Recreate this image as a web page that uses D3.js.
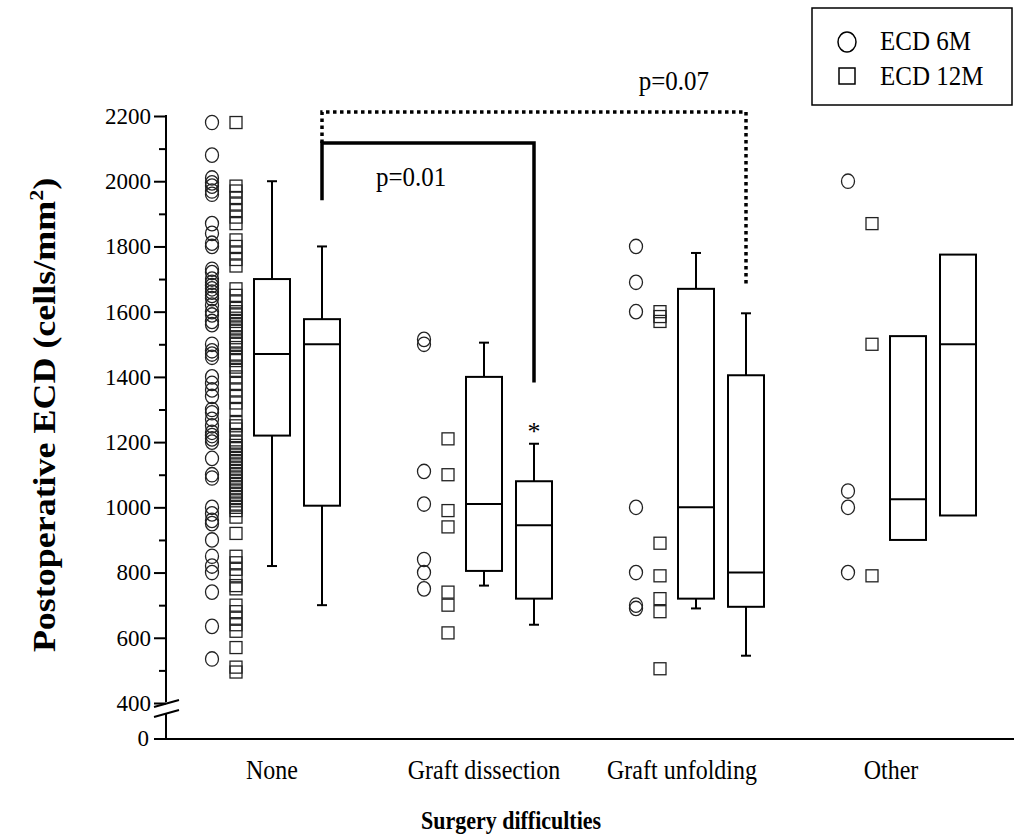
<!DOCTYPE html>
<html><head><meta charset="utf-8">
<script src="https://cdn.jsdelivr.net/npm/d3@7"></script>
<style>body{margin:0;background:#fff}svg{display:block}text{font-family:"Liberation Serif","Times New Roman",serif}</style>
</head><body>
<svg id="c" width="1016" height="840"></svg>
<script>
const categories = ["None", "Graft dissection", "Graft unfolding", "Other"];
const yTicks = [400, 600, 800, 1000, 1200, 1400, 1600, 1800, 2000, 2200];
const yMinorTicks = [500, 700, 900, 1100, 1300, 1500, 1700, 1900, 2100];
const ecd6mPoints = [
  [2180, 2080, 2010, 1995, 1985, 1970, 1960, 1870, 1840, 1810, 1800, 1730, 1720, 1700, 1690, 1680, 1670, 1660, 1650, 1640, 1620, 1600, 1590, 1570, 1560, 1500, 1480, 1470, 1460, 1400, 1380, 1360, 1340, 1300, 1290, 1270, 1250, 1230, 1220, 1210, 1200, 1150, 1100, 1090, 1000, 980, 960, 950, 900, 850, 820, 800, 740, 635, 535],
  [1515, 1500, 1110, 1010, 840, 800, 750],
  [1800, 1690, 1600, 1000, 800, 700, 690],
  [2000, 1050, 1000, 800]
];
const ecd12mPoints = [
  [2180, 1985, 1970, 1950, 1930, 1910, 1890, 1870, 1820, 1800, 1780, 1760, 1740, 1670, 1650, 1630, 1610, 1600, 1590, 1580, 1570, 1560, 1550, 1540, 1520, 1510, 1500, 1490, 1470, 1460, 1450, 1430, 1420, 1400, 1380, 1360, 1340, 1320, 1300, 1260, 1250, 1240, 1220, 1200, 1190, 1180, 1170, 1160, 1150, 1140, 1130, 1120, 1110, 1100, 1090, 1080, 1070, 1060, 1050, 1040, 1030, 1020, 1010, 1000, 990, 970, 920, 850, 830, 810, 790, 760, 750, 700, 680, 660, 640, 620, 570, 510, 495],
  [1210, 1100, 990, 940, 740, 700, 615],
  [1600, 1585, 1570, 890, 790, 720, 680, 505],
  [1870, 1500, 790]
];
// [whiskerLow, q1, median, q3, whiskerHigh]  (null = no whisker)
const box6m = [
  [820, 1220, 1470, 1700, 2000],
  [760, 805, 1010, 1400, 1505],
  [690, 720, 1000, 1670, 1780],
  [null, 900, 1025, 1525, null]
];
const box12m = [
  [700, 1005, 1500, 1577, 1800],
  [640, 720, 945, 1080, 1195],
  [545, 695, 800, 1405, 1595],
  [null, 975, 1500, 1775, null]
];
const brackets = [
  {from: 0, to: 1, top: 2117, left: 1942, right: 1383, label: "p=0.01", lv: 1985, dashed: false},
  {from: 0, to: 2, top: 2212, left: 2117, right: 1681, label: "p=0.07", lv: 2280, dashed: true}
];

const svg = d3.select("#c");
const x = d3.scalePoint().domain(categories).range([166, 1014]).padding(0.5);
const y = d3.scaleLinear().domain([400, 2200]).range([703, 116]);
const y0 = 739;
const OFF = {c6: -60, s12: -36, b6: 0, b12: 50};
const BW = 36;
const labelShift = [0, 0, -14, -17];
const labelX = [0.42, 0.83];

// y axis upper
const gy = svg.append("g").attr("transform", "translate(166,0)");
gy.call(d3.axisLeft(y).tickValues(yTicks).tickSize(12).tickPadding(3).tickFormat(d3.format("d")));
gy.select(".domain").remove();
gy.selectAll(".tick line").attr("stroke", "#000").attr("stroke-width", 2);
gy.selectAll(".tick text").attr("font-size", 23).attr("fill", "#000");
const gym = svg.append("g").attr("transform", "translate(166,0)");
gym.call(d3.axisLeft(y).tickValues(yMinorTicks).tickSize(7).tickFormat(""));
gym.select(".domain").remove();
gym.selectAll(".tick line").attr("stroke", "#000").attr("stroke-width", 2);
svg.append("line").attr("x1", 166).attr("x2", 166).attr("y1", y(2200) - 1).attr("y2", y(400) - 1).attr("stroke", "#000").attr("stroke-width", 2);
svg.append("line").attr("x1", 166).attr("x2", 166).attr("y1", y(400) + 10).attr("y2", y0).attr("stroke", "#000").attr("stroke-width", 2);
[0, 10].forEach(dy => svg.append("line").attr("x1", 154).attr("y1", y(400) + 4 + dy).attr("x2", 179).attr("y2", y(400) - 3 + dy).attr("stroke", "#000").attr("stroke-width", 2));
svg.append("line").attr("x1", 154).attr("x2", 166).attr("y1", y0).attr("y2", y0).attr("stroke", "#000").attr("stroke-width", 2);
svg.append("text").attr("x", 149).attr("y", y0).attr("dy", "0.32em").attr("text-anchor", "end").attr("font-size", 23).text("0");
// x axis
svg.append("line").attr("x1", 165).attr("x2", 1014).attr("y1", y0).attr("y2", y0).attr("stroke", "#000").attr("stroke-width", 2);
categories.forEach((c, i) => svg.append("text").attr("transform", `translate(${x(c) + labelShift[i]},779) scale(1,1.12)`).attr("text-anchor", "middle").attr("font-size", 24).text(c));

// titles
svg.append("text").attr("transform", "translate(511,829) scale(1,1.12)").attr("text-anchor", "middle").attr("font-size", 22).attr("font-weight", "bold").text("Surgery difficulties");
const yt = svg.append("text").attr("transform", "translate(55,415) rotate(-90) scale(1.16,1)").attr("text-anchor", "middle").attr("font-size", 31).attr("font-weight", "bold");
yt.append("tspan").text("Postoperative ECD (cells/mm");
yt.append("tspan").attr("font-size", 19).attr("dy", -12).text("2");
yt.append("tspan").attr("dy", 12).text(")");

// points
const pts = svg.append("g").attr("fill", "none").attr("stroke", "#222").attr("stroke-width", 1.3);
categories.forEach((c, i) => {
  ecd6mPoints[i].forEach(v => pts.append("ellipse").attr("cx", x(c) + OFF.c6).attr("cy", y(v)).attr("rx", 6.5).attr("ry", 7.2));
  ecd12mPoints[i].forEach(v => pts.append("rect").attr("x", x(c) + OFF.s12 - 6).attr("y", y(v) - 6).attr("width", 12).attr("height", 12));
});

// boxes
const bx = svg.append("g").attr("fill", "none").attr("stroke", "#000").attr("stroke-width", 2);
function drawBox(cx, s) {
  const [lo, q1, med, q3, hi] = s;
  if (hi !== null) {
    bx.append("line").attr("x1", cx).attr("x2", cx).attr("y1", y(q3)).attr("y2", y(hi));
    bx.append("line").attr("x1", cx - 5).attr("x2", cx + 5).attr("y1", y(hi)).attr("y2", y(hi));
  }
  if (lo !== null) {
    bx.append("line").attr("x1", cx).attr("x2", cx).attr("y1", y(q1)).attr("y2", y(lo));
    bx.append("line").attr("x1", cx - 5).attr("x2", cx + 5).attr("y1", y(lo)).attr("y2", y(lo));
  }
  bx.append("rect").attr("x", cx - BW / 2).attr("y", y(q3)).attr("width", BW).attr("height", y(q1) - y(q3));
  bx.append("line").attr("x1", cx - BW / 2).attr("x2", cx + BW / 2).attr("y1", y(med)).attr("y2", y(med));
}
categories.forEach((c, i) => {
  drawBox(x(c) + OFF.b6, box6m[i]);
  drawBox(x(c) + OFF.b12, box12m[i]);
});

svg.append("text").attr("x", x(categories[1]) + OFF.b12).attr("y", y(1195) - 4).attr("text-anchor", "middle").attr("font-size", 26).attr("fill", "#000").text("*");

brackets.forEach((b, i) => {
  const x1 = x(categories[b.from]) + OFF.b12, x2 = x(categories[b.to]) + OFF.b12;
  svg.append("path").attr("d", `M${x1},${y(b.left)}V${y(b.top)}H${x2}V${y(b.right)}`)
    .attr("fill", "none").attr("stroke", "#000").attr("stroke-width", 3.5)
    .attr("stroke-dasharray", b.dashed ? "3.5,3.5" : null);
  svg.append("text").attr("transform", `translate(${x1 + (x2 - x1) * labelX[i]},${y(b.lv)}) scale(1,1.12)`).attr("text-anchor", "middle").attr("font-size", 25).text(b.label);
});

// legend
const lg = svg.append("g");
lg.append("rect").attr("x", 812).attr("y", 8).attr("width", 200).attr("height", 97).attr("fill", "none").attr("stroke", "#000").attr("stroke-width", 1.5);
lg.append("ellipse").attr("cx", 847).attr("cy", 42).attr("rx", 9).attr("ry", 10).attr("fill", "none").attr("stroke", "#000").attr("stroke-width", 1.5);
lg.append("rect").attr("x", 839).attr("y", 68).attr("width", 16).attr("height", 16).attr("fill", "none").attr("stroke", "#000").attr("stroke-width", 1.5);
lg.append("text").attr("transform", "translate(880,50) scale(1,1.12)").attr("font-size", 25).text("ECD 6M");
lg.append("text").attr("transform", "translate(880,85) scale(1,1.12)").attr("font-size", 25).text("ECD 12M");
</script>
</body></html>
